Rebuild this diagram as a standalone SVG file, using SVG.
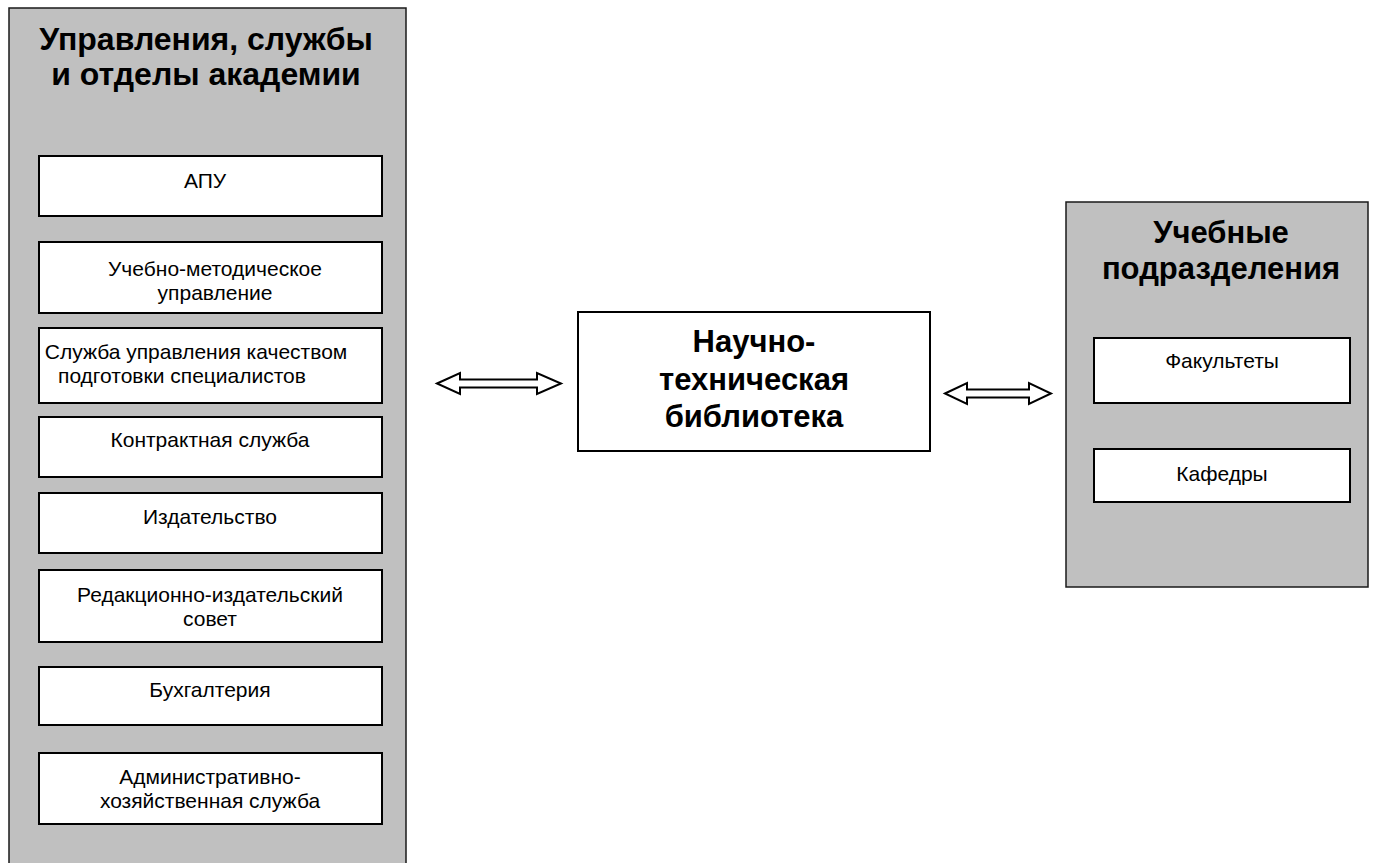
<svg xmlns="http://www.w3.org/2000/svg" width="1377" height="863" viewBox="0 0 1377 863">
<style>
.panel{fill:#c0c0c0;stroke:#1a1a1a;stroke-width:1.5}
.box{fill:#ffffff;stroke:#000;stroke-width:2}
.t{font-family:"Liberation Sans",Arial,sans-serif;font-size:21px;fill:#000;text-anchor:middle}
.h{font-family:"Liberation Sans",Arial,sans-serif;font-size:31px;font-weight:bold;fill:#000;text-anchor:middle}
.h2{font-size:32px}
.arr{fill:#fff;stroke:#000;stroke-width:2;stroke-linejoin:miter}
</style>
<rect width="1377" height="863" fill="#fff"/>
<g id="left-panel">
<rect class="panel" x="9" y="8" width="397" height="870"/>
<text class="h h2" x="206" y="50">Управления, службы</text>
<text class="h h2" x="206" y="85">и отделы академии</text>
</g>
<g id="apu"><rect class="box" x="39" y="156" width="343" height="60"/><text class="t" x="205" y="188">АПУ</text></g>
<g id="umu"><rect class="box" x="39" y="242" width="343" height="71"/><text class="t" x="215" y="276">Учебно-методическое</text><text class="t" x="215" y="300">управление</text></g>
<g id="quality"><rect class="box" x="39" y="328" width="343" height="75"/><text class="t" x="196" y="359">Служба управления качеством</text><text class="t" x="182" y="383">подготовки специалистов</text></g>
<g id="contract"><rect class="box" x="39" y="417" width="343" height="60"/><text class="t" x="210" y="447">Контрактная служба</text></g>
<g id="publisher"><rect class="box" x="39" y="493" width="343" height="60"/><text class="t" x="210" y="524">Издательство</text></g>
<g id="council"><rect class="box" x="39" y="570" width="343" height="72"/><text class="t" x="210" y="602">Редакционно-издательский</text><text class="t" x="210" y="626">совет</text></g>
<g id="accounting"><rect class="box" x="39" y="667" width="343" height="58"/><text class="t" x="210" y="697">Бухгалтерия</text></g>
<g id="admin"><rect class="box" x="39" y="753" width="343" height="71"/><text class="t" x="210" y="784">Административно-</text><text class="t" x="210" y="808">хозяйственная служба</text></g>
<g id="library"><rect class="box" x="578" y="312" width="352" height="139"/>
<text class="h" x="754" y="352">Научно-</text><text class="h" x="754" y="390">техническая</text><text class="h" x="754" y="427">библиотека</text></g>
<g id="right-panel">
<rect class="panel" x="1066" y="202" width="302" height="385"/>
<text class="h" x="1221" y="243">Учебные</text>
<text class="h" x="1221" y="279">подразделения</text>
</g>
<g id="faculties"><rect class="box" x="1094" y="338" width="256" height="65"/><text class="t" x="1222" y="368">Факультеты</text></g>
<g id="departments"><rect class="box" x="1094" y="449" width="256" height="53"/><text class="t" x="1222" y="481">Кафедры</text></g>
<g id="connectors">
<path class="arr" d="M437,383.5 L460,373 L460,379.5 L537,379.5 L537,373 L561,383.5 L537,394 L537,387.5 L460,387.5 L460,394 Z"/>
<path class="arr" d="M945,393.5 L967,383 L967,389.5 L1029,389.5 L1029,383 L1051,393.5 L1029,404 L1029,397.5 L967,397.5 L967,404 Z"/>
</g>
</svg>
